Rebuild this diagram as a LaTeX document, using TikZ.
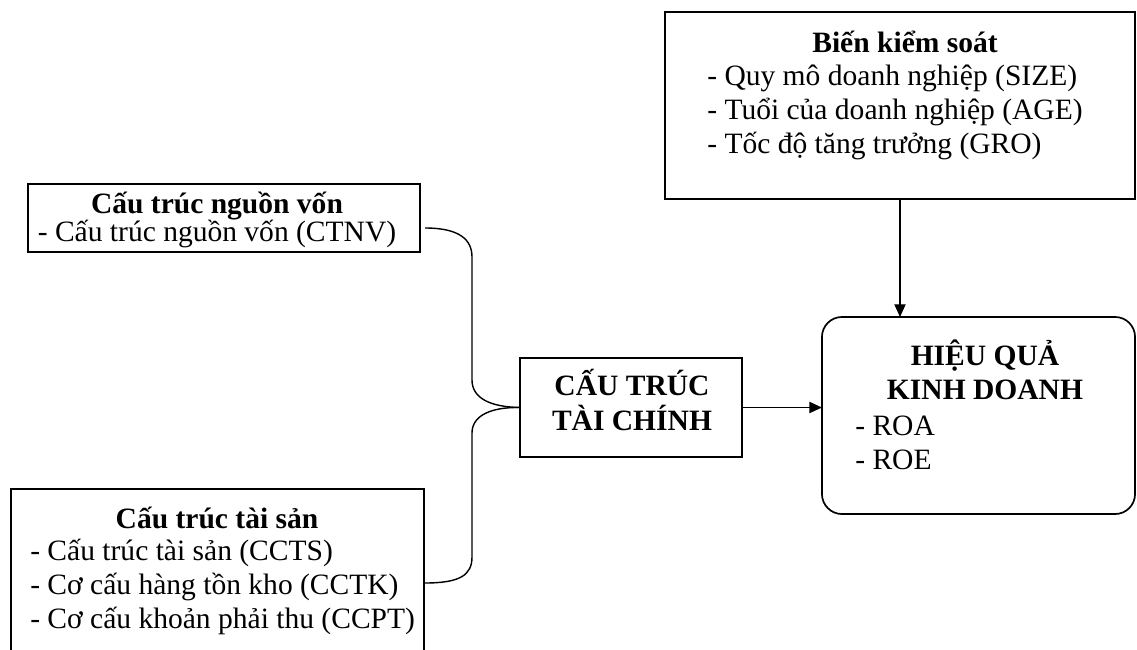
\documentclass[tikz,border=0pt]{standalone}
\usepackage{fontspec}
\setmainfont{Liberation Serif}
\usetikzlibrary{arrows.meta}
\tikzset{>/.tip={Triangle[length=9pt,width=8pt]},
  box/.style={draw,line width=1.2pt,inner sep=0pt,outer sep=0pt},
  txt/.style={inner sep=0pt,font=\fontsize{21}{24.2}\selectfont},
  list/.style={txt,align=left,anchor=west}}

\begin{document}
\begin{tikzpicture}[x=0.025cm,y=-0.025cm]
\useasboundingbox (0,0) rectangle (1137,650);
\clip (0,0) rectangle (1137,650);
\node[box,minimum width=11.75cm,minimum height=4.675cm] (bks) at (900,105.5) {};
\node[box,minimum width=9.8cm,minimum height=1.7cm] (nv) at (224,218) {};
\node[box,minimum width=10.325cm,minimum height=4.8cm] (ts) at (217.5,585) {};
\node[box,minimum width=5.55cm,minimum height=2.475cm] (tc) at (631,407.5) {};
\node[box,rounded corners=0.5cm,minimum width=7.825cm,minimum height=4.925cm] (hq) at (978.5,415.5) {};
\node[txt] (bkst) at (905,42) {\textbf{Biến kiểm soát}};
\node[list] (bksl) at (707,112) {- Quy mô doanh nghiệp (SIZE)\\- Tuổi của doanh nghiệp (AGE)\\- Tốc độ tăng trưởng (GRO)};
\node[txt,align=center] (nvt) at (217,220) {\textbf{Cấu trúc nguồn vốn}\\[-4pt]- Cấu trúc nguồn vốn (CTNV)};
\node[txt] (tst) at (217,518) {\textbf{Cấu trúc tài sản}};
\node[list] (tsl) at (30,587) {- Cấu trúc tài sản (CCTS)\\- Cơ cấu hàng tồn kho (CCTK)\\- Cơ cấu khoản phải thu (CCPT)};
\node[txt,align=center] (tct) at (632,400) {\textbf{CẤU TRÚC}\\\textbf{TÀI CHÍNH}};
\node[txt,align=center] (hqt) at (985,370) {\textbf{HIỆU QUẢ}\\\textbf{KINH DOANH}};
\node[list] (hql) at (855,443) {- ROA\\- ROE};
\coordinate (b1) at (425,228);
\coordinate (b2) at (425,583);
\draw[line width=1pt] (b1) .. controls (460,228) and (472,240) .. (472,257) -- (472,380)
  .. controls (472,398) and (490,407) .. (tc.west);
\draw[line width=1pt] (tc.west) .. controls (490,407) and (472,416) .. (472,433) -- (472,557)
  .. controls (472,575) and (460,583) .. (b2);
\draw[->,line width=0.8pt] (bks.south) -- (bks.south |- hq.north);
\draw[->,line width=1pt] (tc.east) -- (hq.west |- tc.east);
\end{tikzpicture}
\end{document}
